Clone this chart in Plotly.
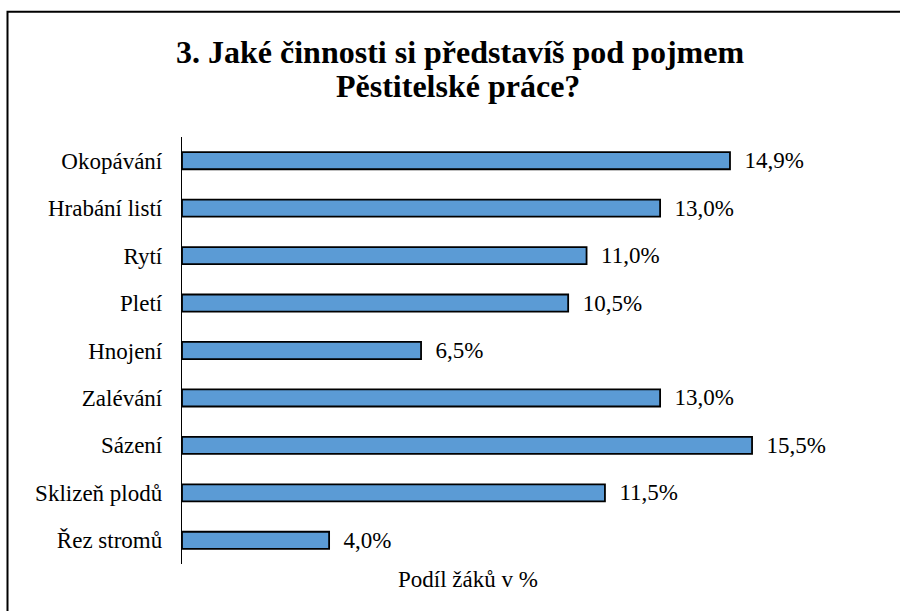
import plotly.graph_objects as go

categories = ["Okopávání", "Hrabání listí", "Rytí", "Pletí", "Hnojení",
              "Zalévání", "Sázení", "Sklizeň plodů", "Řez stromů"]
values = [14.9, 13.0, 11.0, 10.5, 6.5, 13.0, 15.5, 11.5, 4.0]
title_lines = ["3. Jaké činnosti si představíš pod pojmem", "Pěstitelské práce?"]
x_title = "Podíl žáků v %"

labels = [f"{v:.1f}".replace(".", ",") + "%" for v in values]

W, H = 900, 611
L, R, T, B = 182, 56, 137, 46.5
pw, ph = W - L - R, H - T - B

def px(x):
    return (x - L) / pw

def py(y):
    return (H - B - y) / ph

FONT = "Liberation Serif"

fig = go.Figure(go.Bar(
    x=values, y=categories, orientation="h",
    marker=dict(color="#5B9BD5", line=dict(color="#000000", width=1.8)),
    width=0.36,
    text=labels, textposition="outside", constraintext="none",
    texttemplate="  %{text}",
    textfont=dict(family=FONT, size=23, color="#000000"),
    cliponaxis=False,
))

fig.update_layout(
    width=W, height=H,
    margin=dict(l=L, r=R, t=T, b=B, pad=0),
    paper_bgcolor="white", plot_bgcolor="white",
    showlegend=False,
    font=dict(family=FONT, color="#000000"),
    xaxis=dict(range=[0, 18], showgrid=False, zeroline=False, showline=False,
               showticklabels=False, ticks=""),
    yaxis=dict(autorange="reversed", showgrid=False, zeroline=False,
               showline=True, linecolor="#000000", linewidth=1.3,
               ticks="", ticklabelstandoff=14,
               tickfont=dict(family=FONT, size=23, color="#000000")),
    annotations=[
        dict(text="<b>" + title_lines[0] + "</b>", x=px(460), y=py(52), xref="paper", yref="paper",
             xanchor="center", yanchor="middle", showarrow=False,
             font=dict(family=FONT, size=32, color="#000000")),
        dict(text="<b>" + title_lines[1] + "</b>", x=px(458), y=py(86), xref="paper", yref="paper",
             xanchor="center", yanchor="middle", showarrow=False,
             font=dict(family=FONT, size=32, color="#000000")),
        dict(text=x_title, x=px(468), y=py(580), xref="paper", yref="paper",
             xanchor="center", yanchor="middle", showarrow=False,
             font=dict(family=FONT, size=23, color="#000000")),
    ],
    shapes=[dict(type="rect", xref="paper", yref="paper",
                 x0=px(7.5), x1=px(920), y0=py(11.5), y1=py(640),
                 line=dict(color="#000000", width=2), fillcolor="rgba(0,0,0,0)",
                 layer="below")],
)

fig.write_html("out.html", config={"displayModeBar": False},
               post_script="document.body.style.margin='0';document.body.style.overflow='hidden';")
